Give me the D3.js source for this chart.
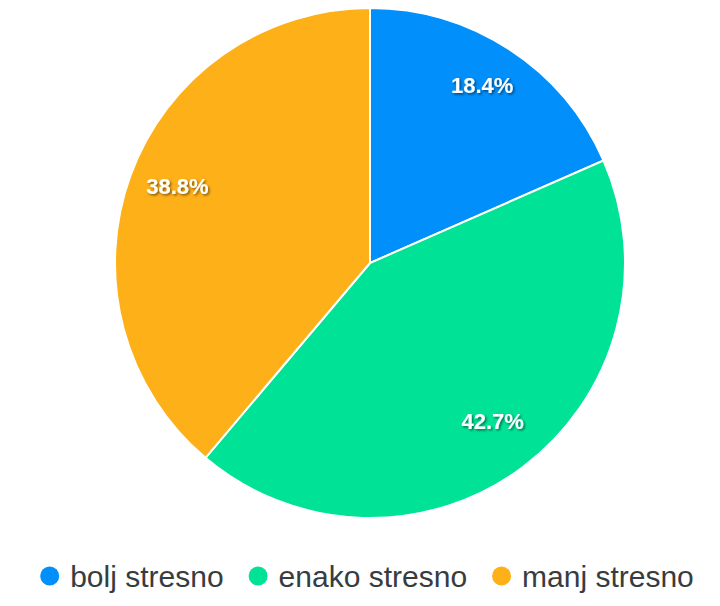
<!DOCTYPE html>
<html>
<head>
<meta charset="utf-8">
<script src="https://cdn.jsdelivr.net/npm/d3@7"></script>
<style>
  html, body { margin: 0; padding: 0; background: #fff; }
  svg { display: block; }
</style>
</head>
<body>
<svg id="chart" width="720" height="606"></svg>
<script>
const categories = ["bolj stresno", "enako stresno", "manj stresno"];
const values = [18.4, 42.7, 38.8];
const colors = ["#008FFB", "#00E396", "#FEB019"];

const svg = d3.select("#chart");
const cx = 370, cy = 263, radius = 255, labelRadius = 205;

const defs = svg.append("defs");
const f = defs.append("filter").attr("id", "shadow")
  .attr("x", "-20%").attr("y", "-20%").attr("width", "140%").attr("height", "140%");
f.append("feDropShadow").attr("dx", 1.5).attr("dy", 1.5).attr("stdDeviation", 1.3)
  .attr("flood-color", "#000").attr("flood-opacity", 0.5);

const pie = d3.pie().value(d => d).sort(null);
const arcs = pie(values);
const arc = d3.arc().innerRadius(0).outerRadius(radius);
const labelArc = d3.arc().innerRadius(labelRadius).outerRadius(labelRadius);

const g = svg.append("g").attr("transform", `translate(${cx},${cy})`);
g.selectAll("path.slice").data(arcs).enter().append("path")
  .attr("class", "slice")
  .attr("d", arc)
  .attr("fill", (d, i) => colors[i])
  .attr("stroke", "#fff")
  .attr("stroke-width", 2);

g.selectAll("text.lbl").data(arcs).enter().append("text")
  .attr("class", "lbl")
  .attr("transform", d => { const c = labelArc.centroid(d); return `translate(${c[0]},${c[1] - 6})`; })
  .attr("text-anchor", "middle")
  .attr("dominant-baseline", "central")
  .attr("font-family", "Helvetica, Arial, 'Liberation Sans', sans-serif")
  .attr("font-weight", "bold")
  .attr("font-size", 22)
  .attr("fill", "#fff")
  .attr("filter", "url(#shadow)")
  .text(d => d.data.toFixed(1) + "%");

// Legend
const legend = svg.append("g");
const items = legend.selectAll("g.item").data(categories).enter().append("g").attr("class", "item");
items.append("circle").attr("r", 9.5).attr("cx", 9.5).attr("cy", 0).attr("fill", (d, i) => colors[i]);
items.append("text")
  .attr("x", 30)
  .attr("y", 0)
  .attr("dominant-baseline", "central")
  .attr("font-family", "Helvetica, Arial, 'Liberation Sans', sans-serif")
  .attr("font-size", 30)
  .attr("fill", "#373d3f")
  .text(d => d);

let x = 0;
const gap = 25;
items.each(function () {
  const t = d3.select(this).select("text").node();
  const w = 30 + t.getComputedTextLength();
  d3.select(this).attr("transform", `translate(${x},0)`);
  x += w + gap;
});
const total = x - gap;
legend.attr("transform", `translate(${367 - total / 2},576)`);
</script>
</body>
</html>
